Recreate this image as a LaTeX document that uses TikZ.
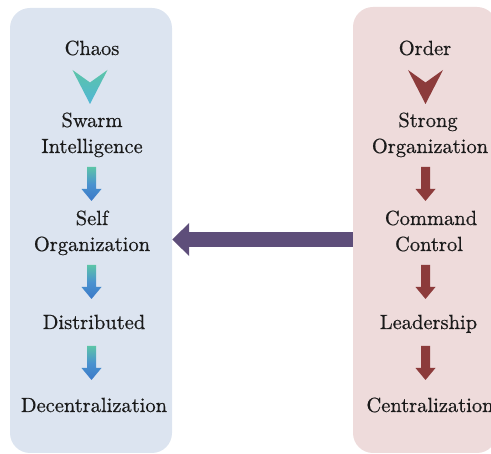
\documentclass[tikz,border=0pt]{standalone}
\usepackage{fontspec}
\newfontfamily\labelfont{lmroman10-regular.otf}[FakeBold=0.6]
\usetikzlibrary{arrows.meta}
\definecolor{leftbg}{HTML}{DCE4F0}
\definecolor{rightbg}{HTML}{EEDBDB}
\definecolor{redarrow}{HTML}{8C3B3B}
\definecolor{bigarrow}{HTML}{5E4E7A}
\definecolor{tealtop}{HTML}{5CC4A8}
\definecolor{tealbot}{HTML}{50B6D6}
\definecolor{bluebot}{HTML}{3A78C8}
\definecolor{bluemid}{HTML}{4A92CF}
\definecolor{ink}{HTML}{1A1A1A}
\begin{document}
\begin{tikzpicture}[x=1pt,y=-1pt,
  panel/.style={draw=none, rounded corners=20pt, inner sep=0pt},
  label/.style={anchor=base, inner sep=0pt, text=ink,
    font=\labelfont\fontsize{20.5}{26}\selectfont},
  blueshade/.style={top color=tealtop, bottom color=bluebot, middle color=bluemid},
  chevshade/.style={top color=tealtop, bottom color=tealbot},
  dnarrow/.pic={\path[pic actions] (-4.5,0) -- (4.5,0) -- (4.5,22) -- (10,22)
      -- (0,34) -- (-10,22) -- (-4.5,22) -- cycle;},
  chev/.pic={\path[pic actions] (-17.5,0) -- (0,12.5) -- (17.5,0) -- (0,34) -- cycle;}
]
\useasboundingbox (0,0) rectangle (491,454);
\clip (0,0) rectangle (491,454);

% the two columns
\node[panel, fill=leftbg, minimum width=162pt, minimum height=445pt] (L) at (91,230.5) {};
\node[panel, fill=rightbg, minimum width=144pt, minimum height=446pt] (R) at (425,230) {};

% left column: chaos side
\node[label] (chaos) at (92,55) {Chaos};
\pic[chevshade] at (90,70) {chev};
\node[label] (swarm1) at (92,127) {Swarm};
\node[label] (swarm2) at (92,153) {Intelligence};
\pic[blueshade] at (91.5,167) {dnarrow};
\node[label] (self1) at (92,225) {Self};
\node[label] (self2) at (92,251) {Organization};
\pic[blueshade] at (91.5,265) {dnarrow};
\node[label] (distr) at (94,329) {Distributed};
\pic[blueshade] at (91.5,346) {dnarrow};
\node[label] (decen) at (94,412) {Decentralization};

% right column: order side
\node[label] (order) at (425,55) {Order};
\pic[fill=redarrow] at (425.5,70) {chev};
\node[label] (strong1) at (428,127) {Strong};
\node[label] (strong2) at (430,153) {Organization};
\pic[fill=redarrow] at (425.5,167) {dnarrow};
\node[label] (cmd1) at (431,225) {Command};
\node[label] (cmd2) at (429,251) {Control};
\pic[fill=redarrow] at (425.5,265) {dnarrow};
\node[label] (lead) at (428.5,329) {Leadership};
\pic[fill=redarrow] at (425.5,346) {dnarrow};
\node[label] (central) at (430,412) {Centralization};

% transition from order to chaos
\coordinate (row) at (0,239.5);
\draw[bigarrow, line width=15pt,
  -{Triangle[length=17pt, width=32pt]}] (R.west |- row) -- (L.east |- row);
\end{tikzpicture}
\end{document}
